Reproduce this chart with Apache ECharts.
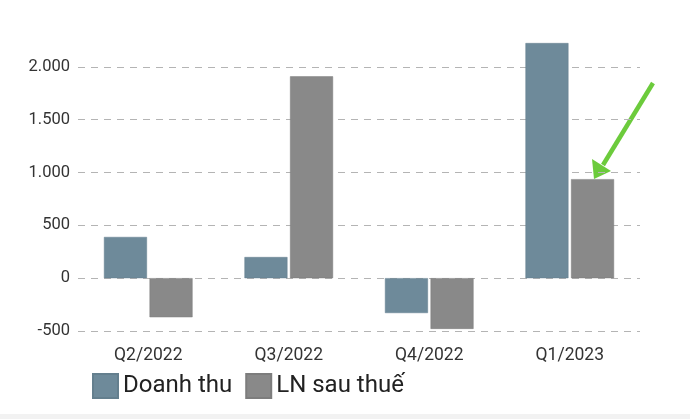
<!DOCTYPE html>
<html><head><meta charset="utf-8">
<script src="https://cdn.jsdelivr.net/npm/echarts@6/dist/echarts.min.js"></script>
<style>html,body{margin:0;padding:0;background:#fff}#c{width:690px;height:419px}</style>
</head><body><div id="c"></div>
<script>
const categories = ['Q2/2022', 'Q3/2022', 'Q4/2022', 'Q1/2023'];
const doanhThu = [390, 200, -330, 2225];
const lnSauThue = [-370, 1910, -480, 937];
const seriesNames = ['Doanh thu', 'LN sau thuế'];

const chart = echarts.init(document.getElementById('c'));
chart.setOption({
  animation: false,
  textStyle: { fontFamily: 'Roboto' },
  grid: { left: 78, right: 50, top: 14, bottom: 88, containLabel: false },
  legend: {
    left: 87, top: 368, itemWidth: 25, itemHeight: 24, itemGap: 13,
    icon: 'rect',
    textStyle: { fontSize: 24, color: '#222', fontFamily: 'Roboto' },
    data: seriesNames
  },
  xAxis: {
    type: 'category', data: categories,
    axisLine: { show: false }, axisTick: { show: false },
    axisLabel: { fontSize: 17.5, color: '#333', margin: 16 }
  },
  yAxis: {
    type: 'value', min: -500, max: 2500, interval: 500,
    axisLine: { show: false }, axisTick: { show: false },
    axisLabel: {
      fontSize: 16.5, color: '#333', margin: 8, showMaxLabel: false,
      formatter: v => v.toString().replace(/\B(?=(\d{3})+(?!\d))/g, '.')
    },
    splitLine: { showMaxLine: false, lineStyle: { type: [7, 6], color: '#b4b4b4', width: 1 } }
  },
  series: [
    { name: seriesNames[0], type: 'bar', data: doanhThu, barWidth: 43, barGap: '6%',
      itemStyle: { color: '#6e8a9a', borderColor: '#647f8e', borderWidth: 0.5 } },
    { name: seriesNames[1], type: 'bar', data: lnSauThue, barWidth: 43,
      itemStyle: { color: '#898989', borderColor: '#7d7d7d', borderWidth: 0.5 } }
  ],
  graphic: [
    { type: 'line', shape: { x1: 653, y1: 83, x2: 603, y2: 165 },
      style: { stroke: '#6ccb3c', lineWidth: 4.5 } },
    { type: 'polygon', shape: { points: [[594, 179], [592, 159], [611, 171]] },
      style: { fill: '#6ccb3c' } },
    { type: 'rect', shape: { x: 0, y: 414, width: 690, height: 5 }, style: { fill: '#f2f2f2' } }
  ]
});
</script></body></html>
